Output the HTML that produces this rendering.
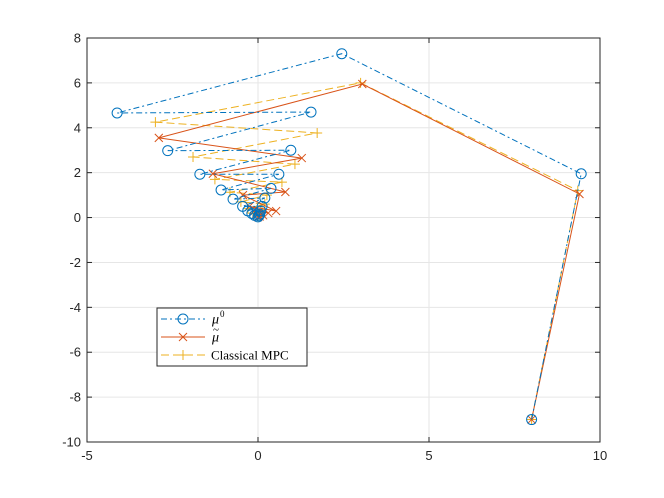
<!DOCTYPE html>
<html><head><meta charset="utf-8"><style>
body{margin:0;background:#fff;}
svg{display:block;font-family:"Liberation Sans",sans-serif;}
</style></head><body>
<svg id="c" width="664" height="498"></svg>
<script>
const xTicks=[-5,0,5,10];
const yTicks=[-10,-8,-6,-4,-2,0,2,4,6,8];
const muX=[8,9.45,2.45,-4.12,1.55,-2.64,0.96,-1.7,0.61,-1.08,0.38,-0.73,0.2,-0.45,0.12,-0.3,0.08,-0.18,0.05,-0.1,0.03,0];
const muY=[-9,1.95,7.3,4.66,4.7,2.98,3.0,1.93,1.93,1.23,1.3,0.82,0.87,0.5,0.5,0.3,0.3,0.18,0.15,0.1,0.08,0.03];
const tiX=[8,9.4,3.05,-2.9,1.28,-1.32,0.8,-0.44,0.53,-0.25,0.3,-0.12,0.15,-0.05,0.05,0];
const tiY=[-9,1.05,5.95,3.55,2.65,1.95,1.14,1.0,0.29,0.5,0.2,0.3,0.1,0.15,0.05,0.02];
const cmX=[8,9.35,3.0,-3.0,1.73,-1.9,1.08,-1.26,0.7,-0.82,0.26,-0.5,0.2,-0.3,0.12,-0.15,0.06,0];
const cmY=[-9,1.2,6.0,4.25,3.77,2.7,2.38,1.7,1.58,1.13,1.0,0.7,0.6,0.4,0.35,0.2,0.15,0.05];
const L=87,R=600,T=38,B=442,xmin=-5,xmax=10,ymin=-10,ymax=8;
const sx=v=>L+(v-xmin)/(xmax-xmin)*(R-L);
const sy=v=>B-(v-ymin)/(ymax-ymin)*(B-T);
const svg=document.getElementById('c');const NS='http://www.w3.org/2000/svg';
function mk(t,a,p){const e=document.createElementNS(NS,t);for(const k in a)e.setAttribute(k,a[k]);(p||svg).appendChild(e);return e;}
mk('rect',{x:L,y:T,width:R-L,height:B-T,fill:'#fff'});
xTicks.forEach(v=>{const g=mk('line',{x1:sx(v),x2:sx(v),y1:T,y2:B,stroke:'#e6e6e6'});

mk('line',{x1:sx(v),x2:sx(v),y1:B,y2:B-5,stroke:'#262626'});mk('line',{x1:sx(v),x2:sx(v),y1:T,y2:T+5,stroke:'#262626'});
const t=mk('text',{x:sx(v),y:B+18,'text-anchor':'middle','font-size':13,fill:'#262626'});t.textContent=v;
});
yTicks.forEach(v=>{const g=mk('line',{x1:L,x2:R,y1:sy(v),y2:sy(v),stroke:'#e6e6e6'});

mk('line',{x1:L,x2:L+5,y1:sy(v),y2:sy(v),stroke:'#262626'});mk('line',{x1:R,x2:R-5,y1:sy(v),y2:sy(v),stroke:'#262626'});
const t=mk('text',{x:L-6,y:sy(v)+4.5,'text-anchor':'end','font-size':13,fill:'#262626'});t.textContent=v;
});
const ax=mk('rect',{x:L,y:T,width:R-L,height:B-T,fill:'none',stroke:'#262626'});

function marker(kind,x,y,c,g){
 if(kind==='o')mk('circle',{cx:x,cy:y,r:5,fill:'none',stroke:c},g);
 else if(kind==='x'){mk('path',{d:`M${x-4} ${y-4}L${x+4} ${y+4}M${x-4} ${y+4}L${x+4} ${y-4}`,stroke:c},g);}
 else mk('path',{d:`M${x-5} ${y}H${x+5}M${x} ${y-5}V${y+5}`,stroke:c},g);}
function series(X,Y,c,dash,kind,name){
 const g=mk('g',{});
 mk('polyline',{points:X.map((v,i)=>sx(v)+','+sy(Y[i])).join(' '),fill:'none',stroke:c,'stroke-dasharray':dash},g);
 X.forEach((v,i)=>marker(kind,sx(v),sy(Y[i]),c,g));}
series(cmX,cmY,'#EDB120','8 4','+','series-classical-mpc');
series(tiX,tiY,'#D95319','','x','series-mu-tilde');
series(muX,muY,'#0072BD','6 3 2 3','o','series-mu0');
const lg=mk('g',{});
mk('rect',{x:157,y:308,width:150,height:58,fill:'#fff',stroke:'#262626'},lg);
const items=[['#0072BD','6 3 2 3','o'],['#D95319','','x'],['#EDB120','8 4','+']];
items.forEach((it,i)=>{const y=319+i*18;
 mk('line',{x1:161,x2:205,y1:y,y2:y,stroke:it[0],'stroke-dasharray':it[1]},lg);marker(it[2],183,y,it[0],lg);});
const f='Liberation Serif, serif';
const t1=mk('text',{x:212,y:323.5,'font-size':14,'font-family':f,'font-style':'italic'},lg);t1.textContent='μ';

const s1=mk('text',{x:220,y:317,'font-size':9,'font-family':f},lg);s1.textContent='0';
const t2=mk('text',{x:212,y:341.5,'font-size':14,'font-family':f,'font-style':'italic'},lg);t2.textContent='μ';

const s2=mk('text',{x:213,y:333,'font-size':11,'font-family':f},lg);s2.textContent='~';
const t3=mk('text',{x:211,y:359.5,'font-size':13,'font-family':f},lg);t3.textContent='Classical MPC';

</script>
</body></html>
